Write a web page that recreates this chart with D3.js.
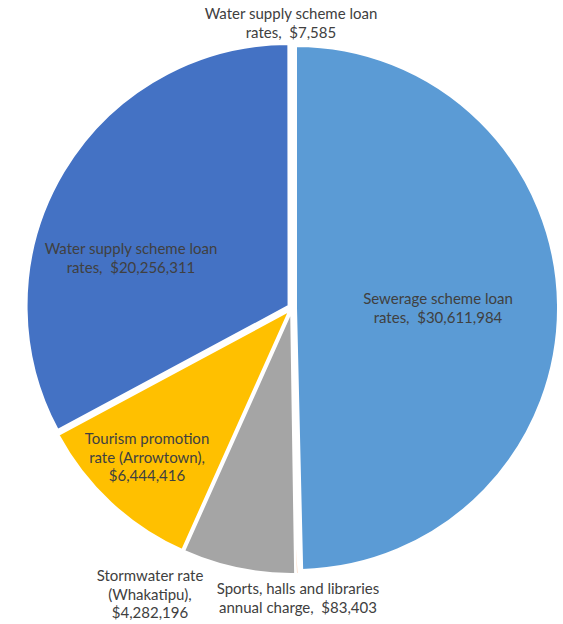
<!DOCTYPE html>
<html><head><meta charset="utf-8">
<script src="https://cdn.jsdelivr.net/npm/d3@7"></script>
<style>body{margin:0;background:#fff}svg{display:block}text{white-space:pre}</style>
</head><body>
<svg id="chart" width="563" height="624"></svg>
<script>
const categories = [
  "Sewerage scheme loan rates",
  "Sports, halls and libraries annual charge",
  "Stormwater rate (Whakatipu)",
  "Tourism promotion rate (Arrowtown)",
  "Water supply scheme loan rates",
  "Water supply scheme loan rates"
];
const values = [30611984, 83403, 4282196, 6444416, 20256311, 7585];
const colors = ["#5B9BD5", "#ED7D31", "#A5A5A5", "#FFC000", "#4472C4", "#70AD47"];
const labelLines = [
  ["Sewerage scheme loan", "rates,  $30,611,984"],
  ["Sports, halls and libraries", "annual charge,  $83,403"],
  ["Stormwater rate", "(Whakatipu),", "$4,282,196"],
  ["Tourism promotion", "rate (Arrowtown),", "$6,444,416"],
  ["Water supply scheme loan", "rates,  $20,256,311"],
  ["Water supply scheme loan", "rates,  $7,585"]
];
// label anchor positions (center x, first line y)
const labelPos = [[438, 300], [298, 590], [150, 577], [147, 440], [131, 250], [291, 15]];

const svg = d3.select("#chart");
const cx = 292, cy = 308, R = 262, explode = 4;
const pie = d3.pie().sort(null).value(d => d)(values);
const arc = d3.arc().innerRadius(0).outerRadius(R);

const g = svg.append("g").attr("transform", `translate(${cx},${cy})`);
g.selectAll("path").data(pie).join("path")
  .attr("d", arc)
  .attr("fill", (d, i) => colors[i])
  .attr("stroke", "#fff").attr("stroke-width", 2)
  .attr("transform", d => {
    const a = (d.startAngle + d.endAngle) / 2;
    return `translate(${explode * Math.sin(a)},${-explode * Math.cos(a)})`;
  });

const lg = svg.append("g").attr("font-family", "Lato, 'Open Sans', sans-serif")
  .attr("font-size", 15).attr("fill", "#404040").attr("text-anchor", "middle");
labelLines.forEach((lines, i) => {
  const t = lg.append("text").attr("x", labelPos[i][0]).attr("y", labelPos[i][1]);
  lines.forEach((l, j) => {
    t.append("tspan").attr("x", labelPos[i][0]).attr("dy", j === 0 ? 0 : 18.8).attr("dominant-baseline", "middle").text(l);
  });
});
</script>
</body></html>
